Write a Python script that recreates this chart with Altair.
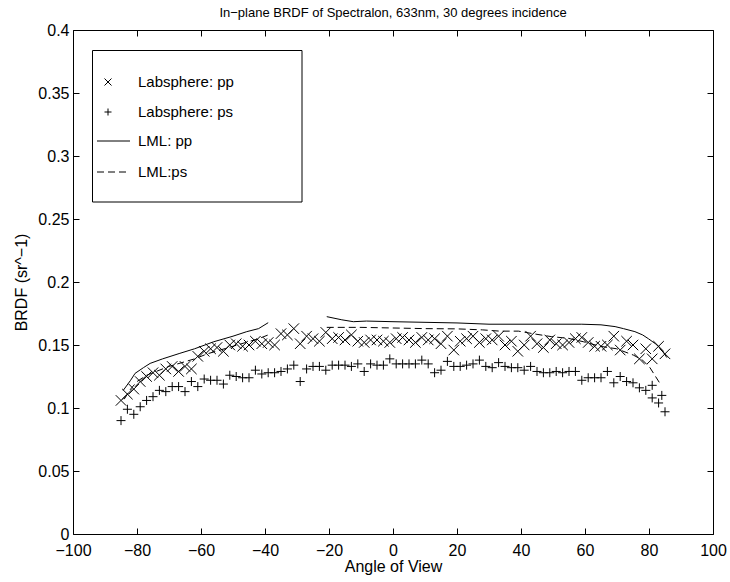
import altair as alt
import pandas as pd

# ---------------- data ----------------
pp_angle = [-85, -83, -81, -79, -77, -75, -73, -71, -69, -67, -65, -63, -61, -59, -57, -55,
            -53, -51, -49, -47, -45, -43, -41, -39, -37, -35, -33, -31, -29, -27, -25, -23,
            -21, -19, -17, -15, -13, -11, -9, -7, -5, -3, -1, 1, 3, 5, 7, 9, 11, 13, 15, 17,
            19, 21, 23, 25, 27, 29, 31, 33, 35, 37, 39, 41, 43, 45, 47, 49, 51, 53, 55, 57,
            59, 61, 63, 65, 67, 69, 71, 73, 75, 77, 79, 81, 83, 85]
pp_brdf = [0.106, 0.111, 0.115, 0.121, 0.125, 0.128, 0.126, 0.131, 0.133, 0.129, 0.133, 0.131,
           0.141, 0.145, 0.147, 0.148, 0.145, 0.150, 0.151, 0.149, 0.150, 0.153, 0.151, 0.152,
           0.150, 0.159, 0.158, 0.163, 0.151, 0.157, 0.155, 0.153, 0.160, 0.155, 0.156, 0.154,
           0.158, 0.153, 0.152, 0.154, 0.154, 0.153, 0.152, 0.155, 0.156, 0.154, 0.152, 0.156,
           0.154, 0.155, 0.151, 0.157, 0.146, 0.153, 0.155, 0.157, 0.152, 0.155, 0.154, 0.157,
           0.150, 0.153, 0.145, 0.150, 0.157, 0.151, 0.148, 0.154, 0.151, 0.150, 0.152, 0.155,
           0.156, 0.152, 0.149, 0.149, 0.150, 0.157, 0.146, 0.153, 0.150, 0.139, 0.147, 0.139,
           0.149, 0.143]

ps_angle = [-85, -83, -81, -79, -77, -75, -73, -71, -69, -67, -65, -63, -61, -59, -57, -55,
            -53, -51, -49, -47, -45, -43, -41, -39, -37, -35, -33, -31, -29, -27, -25, -23,
            -21, -19, -17, -15, -13, -11, -9, -7, -5, -3, -1, 1, 3, 5, 7, 9, 11, 13, 15, 17,
            19, 21, 23, 25, 27, 29, 31, 33, 35, 37, 39, 41, 43, 45, 47, 49, 51, 53, 55, 57,
            59, 61, 63, 65, 67, 69, 71, 73, 75, 77, 79, 81, 81, 83, 84, 85]
ps_brdf = [0.090, 0.099, 0.095, 0.101, 0.106, 0.109, 0.114, 0.113, 0.117, 0.117, 0.113, 0.121,
           0.117, 0.123, 0.122, 0.122, 0.119, 0.126, 0.125, 0.124, 0.124, 0.130, 0.127, 0.128,
           0.128, 0.129, 0.131, 0.134, 0.121, 0.131, 0.133, 0.133, 0.130, 0.134, 0.134, 0.134,
           0.133, 0.135, 0.129, 0.135, 0.134, 0.134, 0.139, 0.135, 0.135, 0.135, 0.135, 0.138,
           0.135, 0.128, 0.130, 0.137, 0.133, 0.133, 0.134, 0.135, 0.138, 0.133, 0.132, 0.136,
           0.133, 0.132, 0.132, 0.130, 0.133, 0.129, 0.128, 0.128, 0.129, 0.128, 0.129, 0.129,
           0.122, 0.124, 0.124, 0.124, 0.129, 0.120, 0.125, 0.121, 0.120, 0.116, 0.114, 0.118,
           0.108, 0.104, 0.110, 0.097]

lml_pp_angle = [-84.3, -82, -80.6, -78, -75.9, -72, -66.6, -62, -56, -50, -45.7, -42, -39,
                -20.7, -16, -12.4, -8.3, 0, 10, 20, 30, 40, 50, 59, 65, 69.4, 72, 75.6, 78,
                79.8, 82, 83, 84.5, 85.6]
lml_pp_brdf = [0.114, 0.122, 0.1275, 0.132, 0.1354, 0.139, 0.1434, 0.147, 0.1526, 0.157, 0.1606,
               0.163, 0.1677, 0.1725, 0.170, 0.1685, 0.169, 0.1685, 0.168, 0.1675, 0.1665,
               0.1665, 0.1665, 0.1665, 0.166, 0.1646, 0.163, 0.1606, 0.158, 0.155, 0.151,
               0.1487, 0.144, 0.140]
lml_pp_seg = [1] * 13 + [2] * 21

lml_ps_angle = [-84, -82, -80, -77, -74, -70, -66, -62, -58, -54, -50, -46, -42, -39,
                -20.7, -15, -10, 0, 10, 20, 28, 33.4, 39.2, 44.4, 49.6, 54.8, 59.5, 64.7,
                69.9, 75.1, 78, 80.3, 83.4]
lml_ps_brdf = [0.107, 0.115, 0.121, 0.126, 0.129, 0.133, 0.136, 0.139, 0.143, 0.146, 0.149,
               0.152, 0.155, 0.158, 0.164, 0.164, 0.164, 0.1635, 0.163, 0.1628, 0.162, 0.161,
               0.161, 0.1587, 0.1566, 0.1553, 0.1526, 0.149, 0.147, 0.142, 0.138, 0.132, 0.1196]
lml_ps_seg = [1] * 14 + [2] * 19

legend_labels = ["Labsphere: pp", "Labsphere: ps", "LML: pp", "LML:ps"]
x_ticks = [-100, -80, -60, -40, -20, 0, 20, 40, 60, 80, 100]
y_ticks = [0, 0.05, 0.1, 0.15, 0.2, 0.25, 0.3, 0.35, 0.4]

title_text = "In\u2212plane BRDF of Spectralon, 633nm, 30 degrees incidence"

# ---------------- styling ----------------
FONT = "Liberation Sans"
FS = 16
LEG_FS = 15
W, H = 640, 504
X_PATH = "M-1,-1L1,1M1,-1L-1,1"
P_PATH = "M-1,0L1,0M0,-1L0,1"

pp_df = pd.DataFrame({"angle": pp_angle, "brdf": pp_brdf})
ps_df = pd.DataFrame({"angle": ps_angle, "brdf": ps_brdf})
lpp_df = pd.DataFrame({"angle": lml_pp_angle, "brdf": lml_pp_brdf, "seg": lml_pp_seg})
lps_df = pd.DataFrame({"angle": lml_ps_angle, "brdf": lml_ps_brdf, "seg": lml_ps_seg})

xscale = alt.Scale(domain=[-100, 100], nice=False, zero=False)
yscale = alt.Scale(domain=[0, 0.4], nice=False, zero=False)

common_axis = dict(tickSize=6, offset=-6, domain=False, grid=False, tickColor="black",
                   tickWidth=1, labelColor="black", labelFont=FONT, labelFontSize=FS,
                   labelFlush=False, labelOverlap=False, titleFont=FONT,
                   titleFontSize=FS, titleFontWeight="normal", titleColor="black")

x_bottom = alt.X("angle:Q", scale=xscale,
                 axis=alt.Axis(orient="bottom", values=x_ticks, format="d", labelPadding=8,
                               title="Angle of View", titlePadding=0, **common_axis))
y_left = alt.Y("brdf:Q", scale=yscale,
               axis=alt.Axis(orient="left", values=y_ticks, format="~g", labelPadding=4,
                             title="BRDF (sr^\u22121)", titlePadding=8, **common_axis))
x_top = alt.X("angle:Q", scale=xscale,
              axis=alt.Axis(orient="top", values=x_ticks, labels=False, title="", **common_axis))
y_right = alt.Y("brdf:Q", scale=yscale,
                axis=alt.Axis(orient="right", values=y_ticks, labels=False, title="", **common_axis))
x_plain = alt.X("angle:Q", scale=xscale, axis=None)
y_plain = alt.Y("brdf:Q", scale=yscale, axis=None)

pp_layer = alt.Chart(pp_df).mark_point(
    shape=X_PATH, size=110, filled=False, stroke="black", strokeWidth=1, opacity=1
).encode(x=x_bottom, y=y_left)

ps_layer = alt.Chart(ps_df).mark_point(
    shape=P_PATH, size=81, filled=False, stroke="black", strokeWidth=1, opacity=1
).encode(x=x_top, y=y_right)

lpp_layer = alt.Chart(lpp_df).mark_line(color="black", strokeWidth=1).encode(
    x=x_plain, y=y_plain, detail="seg:N")

lps_layer = alt.Chart(lps_df).mark_line(color="black", strokeWidth=1, strokeDash=[7, 4]).encode(
    x=x_plain, y=y_plain, detail="seg:N")

# ---------------- legend (drawn in pixel space) ----------------
one = pd.DataFrame({"k": [0]})
box = alt.Chart(one).mark_rect(fill="white", stroke="black", strokeWidth=1).encode(
    x=alt.value(19.5), x2=alt.value(229), y=alt.value(20.5), y2=alt.value(172))

rows_y = [52, 82, 111, 142]
leg_x = alt.Chart(one).mark_point(shape=X_PATH, size=49, filled=False, stroke="black",
                                  strokeWidth=1, opacity=1).encode(
    x=alt.value(35), y=alt.value(rows_y[0]))
leg_p = alt.Chart(one).mark_point(shape=P_PATH, size=49, filled=False, stroke="black",
                                  strokeWidth=1, opacity=1).encode(
    x=alt.value(35), y=alt.value(rows_y[1]))
leg_solid = alt.Chart(one).mark_rule(color="black", strokeWidth=1).encode(
    x=alt.value(24), x2=alt.value(57), y=alt.value(rows_y[2]))
leg_dash = alt.Chart(one).mark_rule(color="black", strokeWidth=1, strokeDash=[7, 4]).encode(
    x=alt.value(24), x2=alt.value(57), y=alt.value(rows_y[3]))

leg_text_layers = []
for i, lab in enumerate(legend_labels):
    leg_text_layers.append(
        alt.Chart(pd.DataFrame({"label": [lab]})).mark_text(
            align="left", baseline="middle", font=FONT, fontSize=LEG_FS, color="black"
        ).encode(x=alt.value(65), y=alt.value(rows_y[i]), text="label:N")
    )

chart = alt.layer(
    pp_layer, ps_layer, lpp_layer, lps_layer,
    box, leg_x, leg_p, leg_solid, leg_dash, *leg_text_layers
).resolve_axis(x="independent", y="independent").properties(
    width=W, height=H,
    title=alt.TitleParams(title_text, font=FONT, fontSize=13, fontWeight="normal",
                          color="black", anchor="middle", offset=2),
    autosize=alt.AutoSizeParams(type="none"),
    padding={"left": 73, "top": 30, "right": 17, "bottom": 48},
    background="white",
).configure_view(stroke="black", strokeWidth=1)

chart.save("out.html", embed_options={"renderer": "svg", "actions": False})
